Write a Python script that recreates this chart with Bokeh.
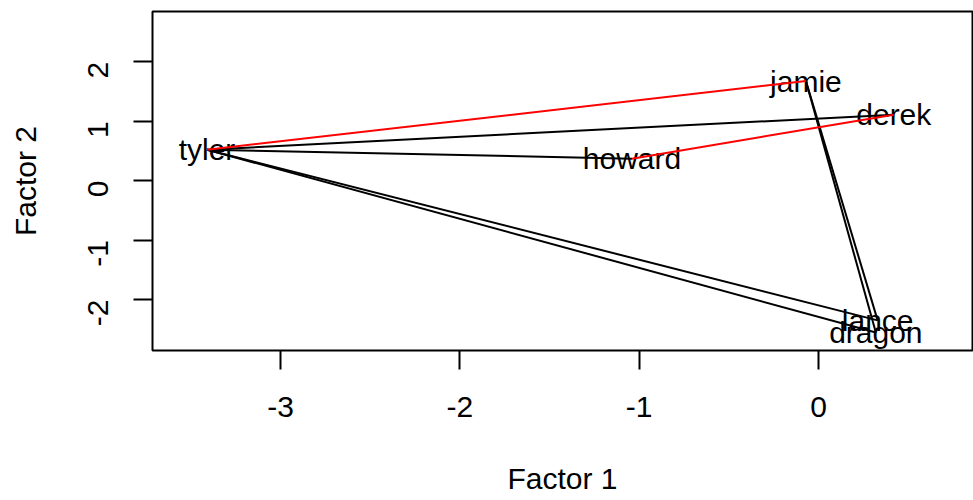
import math
from bokeh.plotting import figure
from bokeh.models import ColumnDataSource, Range1d, FixedTicker, PrintfTickFormatter
from bokeh.embed import file_html
from bokeh.resources import INLINE
from bokeh.core.properties import value

# ---- data ----
names = ["tyler", "jamie", "derek", "howard", "lance", "dragon"]
factor1 = [-3.41, -0.07, 0.42, -1.04, 0.33, 0.32]
factor2 = [0.52, 1.675, 1.11, 0.37, -2.35, -2.555]

edge_from = ["tyler", "tyler", "tyler", "tyler", "jamie", "jamie", "tyler", "howard"]
edge_to = ["derek", "howard", "lance", "dragon", "lance", "dragon", "jamie", "derek"]
edge_color = ["black", "black", "black", "black", "black", "black", "red", "red"]

x_ticks = [-3, -2, -1, 0]
y_ticks = [-2, -1, 0, 1, 2]
x_label = "Factor 1"
y_label = "Factor 2"

FONT = "Liberation Sans"
FS = "30px"

pos = {n: (x, y) for n, x, y in zip(names, factor1, factor2)}
edges = ColumnDataSource(dict(
    x0=[pos[a][0] for a in edge_from], y0=[pos[a][1] for a in edge_from],
    x1=[pos[b][0] for b in edge_to], y1=[pos[b][1] for b in edge_to],
    color=edge_color,
))
nodes = ColumnDataSource(dict(x=factor1, y=factor2, name=names))

p = figure(width=973, height=500,
           x_range=Range1d(-3.714, 0.859), y_range=Range1d(-2.857, 2.845),
           output_backend="svg", toolbar_location=None,
           min_border_left=152, min_border_right=1, min_border_top=11, min_border_bottom=150)

p.xgrid.visible = False
p.ygrid.visible = False
p.background_fill_color = "white"
p.border_fill_color = "white"
p.outline_line_color = "black"
p.outline_line_width = 2

p.xaxis.ticker = FixedTicker(ticks=x_ticks)
p.yaxis.ticker = FixedTicker(ticks=y_ticks)
for ax in (p.xaxis, p.yaxis):
    ax.formatter = PrintfTickFormatter(format="%d")
    ax.axis_line_color = None
    ax.major_tick_in = 0
    ax.major_tick_out = 19
    ax.major_tick_line_width = 2
    ax.major_tick_line_color = "black"
    ax.minor_tick_line_color = None
    ax.major_label_text_font = FONT
    ax.major_label_text_font_size = FS
    ax.major_label_text_color = "black"
    ax.axis_label_text_font = FONT
    ax.axis_label_text_font_size = FS
    ax.axis_label_text_font_style = "normal"
    ax.axis_label_text_color = "black"

p.xaxis.axis_label = x_label
p.yaxis.axis_label = y_label
p.xaxis.major_label_standoff = 27
p.xaxis.axis_label_standoff = 42
p.yaxis.major_label_standoff = 35
p.yaxis.axis_label_standoff = 34
p.yaxis.major_label_orientation = math.pi / 2

p.text(x="x", y="y", text="name", source=nodes, text_font=value(FONT),
       text_font_size=FS, text_align="center", text_baseline="middle",
       text_color="black")
p.segment(x0="x0", y0="y0", x1="x1", y1="y1", color="color", line_width=2,
          source=edges)

open("out.html", "w").write(file_html(p, INLINE))
